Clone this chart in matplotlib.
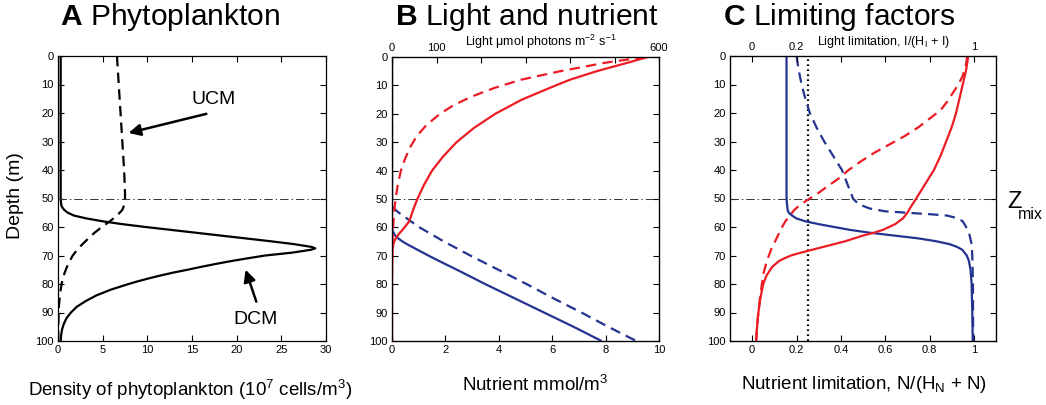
import matplotlib
matplotlib.use("Agg")
import matplotlib.pyplot as plt

plt.rcParams['font.family'] = ['Liberation Sans', 'DejaVu Sans']
plt.rcParams['mathtext.fontset'] = 'custom'
plt.rcParams['mathtext.rm'] = 'Liberation Sans'
plt.rcParams['mathtext.it'] = 'Liberation Sans:italic'
plt.rcParams['mathtext.bf'] = 'Liberation Sans:bold'
plt.rcParams['lines.scale_dashes'] = False

RED = '#ec1c24'
BLUE = '#24338f'

# ---- Panel A: phytoplankton density (10^7 cells/m^3) ----
dcm_depth = [0, 20, 40, 50, 52, 53, 54, 55, 56, 57, 58, 59, 60, 61, 62, 63, 64, 65, 66, 67,
             67.5, 68, 69, 70, 71, 72, 73, 74, 75, 76, 77, 78, 79, 80, 82, 84, 86, 88, 90,
             92, 94, 96, 98, 100]
dcm_density = [0.3, 0.3, 0.3, 0.3, 0.35, 0.45, 0.7, 1.1, 1.8, 3.2, 5.0, 7.2, 9.8, 12.6, 15.4,
               18.2, 21.0, 23.8, 26.4, 28.4, 28.8, 28.3, 26.2, 23.2, 21.2, 19.3, 17.6, 16.0,
               14.5, 12.9, 11.5, 10.2, 9.0, 7.9, 5.9, 4.3, 3.1, 2.1, 1.45, 0.95, 0.65, 0.45,
               0.35, 0.3]
ucm_depth = [0, 10, 20, 30, 40, 48, 50, 52, 54, 56, 58, 60, 62, 64, 66, 68, 70, 72, 74, 76,
             78, 80, 84, 88, 92, 96, 100]
ucm_density = [6.6, 6.8, 7.0, 7.2, 7.4, 7.5, 7.5, 7.45, 7.2, 6.6, 5.8, 4.9, 4.1, 3.4, 2.75,
               2.15, 1.65, 1.3, 1.0, 0.75, 0.55, 0.4, 0.2, 0.1, 0.05, 0.03, 0.02]

# ---- Panel B: light (top axis) and nutrient (bottom axis) ----
light_depth = [0, 2, 5, 8, 10, 15, 20, 25, 30, 35, 40, 45, 50, 52, 54, 56, 58, 60, 61, 62,
               63, 64, 65, 66, 68, 70, 75, 80, 100]
light_dcm = [575, 530, 460, 400, 368, 292, 232, 184, 145, 115, 90, 72, 57, 52, 47, 43, 38,
             28, 23, 17, 12, 8, 5, 3, 1.2, 0.6, 0.2, 0, 0]
light_ucm_depth = [0, 2, 5, 8, 11, 14, 17, 20, 24, 28, 32, 36, 40, 45, 50, 55, 60, 65, 70,
                   80, 100]
light_ucm = [570, 480, 378, 290, 228, 178, 138, 108, 77, 55, 40, 29, 20, 13, 8, 4.5, 2.5,
             1.2, 0.5, 0, 0]
nut_dcm_depth = [0, 60, 61, 62, 63, 64, 65, 66, 67, 68, 69, 70, 72, 75, 80, 85, 90, 95, 100]
nut_dcm = [0, 0, 0.02, 0.06, 0.13, 0.25, 0.4, 0.58, 0.78, 0.98, 1.18, 1.38, 1.8, 2.45, 3.5,
           4.6, 5.7, 6.8, 7.85]
nut_ucm_depth = [0, 52, 53, 54, 55, 56, 57, 58, 60, 62, 65, 70, 75, 80, 85, 90, 95, 100]
nut_ucm = [0, 0, 0.05, 0.15, 0.28, 0.43, 0.58, 0.73, 1.03, 1.4, 1.95, 2.95, 4.0, 5.05, 6.05,
           7.1, 8.1, 9.15]

# ---- Panel C: limiting factors ----
nlim_dcm_depth = [0, 50, 52, 54, 55, 56, 57, 58, 59, 60, 61, 62, 63, 64, 65, 66, 67, 68, 70,
                  72, 75, 80, 90, 100]
nlim_dcm = [0.155, 0.155, 0.157, 0.16, 0.165, 0.18, 0.2, 0.24, 0.3, 0.37, 0.44, 0.53, 0.64,
            0.75, 0.83, 0.89, 0.925, 0.948, 0.968, 0.978, 0.985, 0.99, 0.993, 0.995]
nlim_ucm_depth = [0, 5, 10, 15, 20, 25, 30, 35, 40, 45, 48, 50, 52, 53.5, 54.5, 55, 55.5, 56,
                  57, 58, 60, 62, 66, 70, 80, 100]
nlim_ucm = [0.2, 0.21, 0.223, 0.24, 0.26, 0.29, 0.325, 0.365, 0.405, 0.43, 0.445, 0.455,
            0.48, 0.53, 0.6, 0.7, 0.8, 0.88, 0.93, 0.95, 0.965, 0.978, 0.99, 0.993, 0.996,
            0.997]
llim_dcm_depth = [0, 5, 10, 15, 20, 25, 30, 35, 40, 45, 50, 53, 55, 57, 59, 61, 62, 63, 64,
                  65, 66, 67, 68, 69, 70, 71, 72, 74, 77, 80, 85, 90, 95, 100]
llim_dcm = [0.975, 0.965, 0.95, 0.935, 0.92, 0.9, 0.875, 0.85, 0.82, 0.78, 0.74, 0.715, 0.70,
            0.68, 0.645, 0.59, 0.55, 0.5, 0.46, 0.42, 0.37, 0.32, 0.27, 0.22, 0.175, 0.145,
            0.12, 0.09, 0.065, 0.05, 0.037, 0.028, 0.022, 0.018]
llim_ucm_depth = [0, 3, 7, 10, 13, 16, 19, 22, 25, 28, 31, 34, 37, 40, 43, 46, 48, 50, 52,
                  54, 56, 58, 60, 64, 68, 72, 76, 80, 85, 90, 95, 100]
llim_ucm = [0.97, 0.965, 0.95, 0.93, 0.905, 0.88, 0.85, 0.8, 0.75, 0.69, 0.62, 0.55, 0.49,
            0.435, 0.39, 0.335, 0.3, 0.26, 0.22, 0.19, 0.17, 0.15, 0.135, 0.11, 0.085, 0.066,
            0.052, 0.044, 0.035, 0.028, 0.022, 0.018]
half_sat_line = 0.25
z_mix = 50

depth_ticks = list(range(0, 101, 10))
a_xticks = [0, 5, 10, 15, 20, 25, 30]
b_xticks = [0, 2, 4, 6, 8, 10]
b_top_ticks = [0, 100, 200, 300, 400, 500, 600]
b_top_labels = ['0', '100', '', '', '', '', '600']
c_xticks = [0, 0.2, 0.4, 0.6, 0.8, 1]
c_xlabels = ['0', '0.2', '0.4', '0.6', '0.8', '1']
c_top_labels = ['0', '0.2', '', '', '', '1']

SOLID = dict(lw=1.6, solid_capstyle='butt')
DASHED = dict(lw=1.6, linestyle=(0, (7.5, 4.5)))
MIXLINE = dict(color='#333333', lw=0.7, linestyle=(0, (6, 2.2, 1, 2.2)))
TICKFS = 8
LABELFS = 13.5

W, H = 1046, 405
fig = plt.figure(figsize=(W / 100, H / 100), dpi=100)


def px_axes(left, right, top, bottom):
    return fig.add_axes([left / W, 1 - bottom / H, (right - left) / W, (bottom - top) / H])


def style(ax):
    ax.set_ylim(100, 0)
    ax.set_yticks(depth_ticks)
    ax.tick_params(direction='in', length=4, width=0.8, top=True, right=True,
                   labelsize=TICKFS, pad=3)
    for s in ax.spines.values():
        s.set_linewidth(0.9)


def top_twin(ax, lim, ticks, labels):
    t = ax.twiny()
    t.set_xlim(*lim)
    t.set_xticks(ticks)
    t.set_xticklabels(labels)
    t.set_ylim(100, 0)
    t.tick_params(direction='in', length=4, width=0.8, labelsize=TICKFS, pad=3)
    ax.tick_params(top=False)
    return t


def fig_text(x, y, s, **kw):
    return fig.text(x / W, 1 - y / H, s, va='baseline', **kw)


# Panel A
axA = px_axes(58, 326, 56, 341)
axA.plot(ucm_density, ucm_depth, color='black', **DASHED)
axA.plot(dcm_density, dcm_depth, color='black', **SOLID)
axA.axhline(z_mix, **MIXLINE)
axA.set_xlim(0, 30)
axA.set_xticks(a_xticks)
style(axA)
fig_text(190.5, 396, r'Density of phytoplankton (10$^7$ cells/m$^3$)', fontsize=LABELFS,
         ha='center')
axA.set_ylabel('Depth (m)', fontsize=14)
axA.yaxis.set_label_coords(-0.125, 0.51)
arrow = dict(arrowstyle='-|>,head_length=0.7,head_width=0.35', lw=1.8, color='black',
             shrinkA=0, shrinkB=0)
axA.annotate('', xy=(7.9, 27), xytext=(16.6, 20.3), arrowprops=arrow)
axA.text(17.4, 15.1, 'UCM', fontsize=14, ha='center', va='center')
axA.annotate('', xy=(21.0, 75.0), xytext=(22.2, 86.2), arrowprops=arrow)
axA.text(22.1, 92.6, 'DCM', fontsize=14, ha='center', va='center')

# Panel B
axB = px_axes(392, 659, 57, 341)
axB.plot(nut_ucm, nut_ucm_depth, color=BLUE, **DASHED)
axB.plot(nut_dcm, nut_dcm_depth, color=BLUE, **SOLID)
axB.axhline(z_mix, **MIXLINE)
axB.set_xlim(0, 10)
axB.set_xticks(b_xticks)
style(axB)
fig_text(535, 391, r'Nutrient mmol/m$^3$', fontsize=LABELFS, ha='center')
axBt = top_twin(axB, (0, 600), b_top_ticks, b_top_labels)
axBt.plot(light_ucm, light_ucm_depth, color=RED, **DASHED)
axBt.plot(light_dcm, light_depth, color=RED, **SOLID)
fig_text(541, 46, r'Light μmol photons m$^{-2}$ s$^{-1}$', fontsize=9, ha='center')

# Panel C
axC = px_axes(730, 996, 56, 341)
axC.axvline(half_sat_line, color='black', lw=1.6, linestyle=(0, (1.2, 2.4)))
axC.plot(nlim_ucm, nlim_ucm_depth, color=BLUE, **DASHED)
axC.plot(llim_ucm, llim_ucm_depth, color=RED, **DASHED)
axC.plot(nlim_dcm, nlim_dcm_depth, color=BLUE, **SOLID)
axC.plot(llim_dcm, llim_dcm_depth, color=RED, **SOLID)
axC.axhline(z_mix, **MIXLINE)
axC.set_xlim(-0.1, 1.1)
axC.set_xticks(c_xticks)
axC.set_xticklabels(c_xlabels)
style(axC)
top_twin(axC, (-0.1, 1.1), c_xticks, c_top_labels)
fig_text(864, 389, r'Nutrient limitation, N/(H$_\mathrm{N}$ + N)', fontsize=LABELFS,
         ha='center')
fig_text(884, 45, r'Light limitation, I/(H$_\mathrm{I}$ + I)', fontsize=9, ha='center')
fig_text(1007, 208, 'Z', fontsize=17, ha='left')
fig_text(1018, 219, 'mix', fontsize=11.5, ha='left')

# Panel titles
for x0, letter, name in [(60, 'A', 'Phytoplankton'), (395, 'B', 'Light and nutrient'),
                         (723, 'C', 'Limiting factors')]:
    fig_text(x0, 25, r'$\mathbf{%s}$ %s' % (letter, name), fontsize=21.6, ha='left')

fig.savefig('out.png', dpi=100)
